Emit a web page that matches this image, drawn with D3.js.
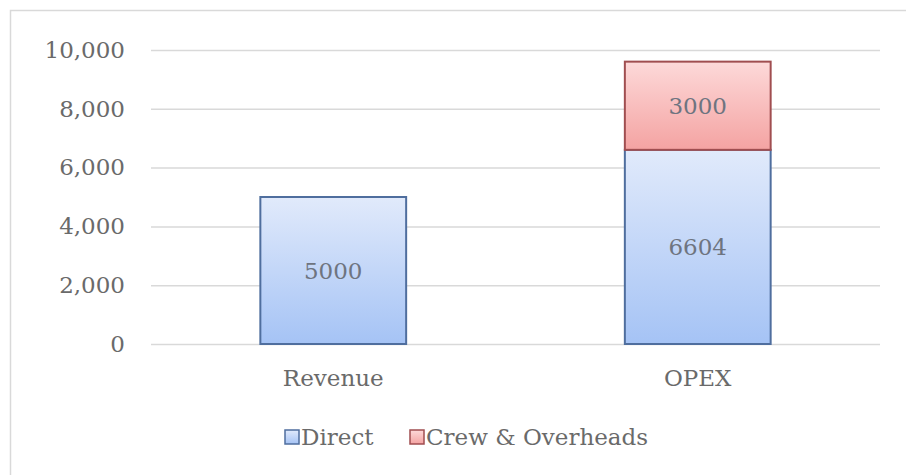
<!DOCTYPE html>
<html><head><meta charset="utf-8">
<script src="https://cdn.jsdelivr.net/npm/d3@7"></script>
<style>html,body{margin:0;padding:0;background:#fff;}svg{display:block;}</style>
</head><body>
<svg id="chart" width="906" height="475"></svg>
<script>
const categories = ["Revenue", "OPEX"];
const seriesNames = ["Direct", "Crew & Overheads"];
const directValues = [5000, 6604];
const crewValues = [0, 3000];
const yTicks = [0, 2000, 4000, 6000, 8000, 10000];

const W = 906, H = 475;
const svg = d3.select("#chart");
const FONT = "'DejaVu Serif', serif";
const FS = 23;
const textColor = "#6a6a6a";

// frame
svg.append("rect").attr("x", 10.5).attr("y", 10.5).attr("width", W + 20).attr("height", H + 20)
  .attr("fill", "#fff").attr("stroke", "#d9d9d9").attr("stroke-width", 1.5);

const plot = {left: 151, right: 880, top: 50, bottom: 344};
const x = d3.scaleBand().domain(categories).range([plot.left, plot.right]).padding(0);
const y = d3.scaleLinear().domain([0, 10000]).range([plot.bottom, plot.top]);
const barW = x.bandwidth() * 0.4;

const defs = svg.append("defs");
function grad(id, top, bottom) {
  const g = defs.append("linearGradient").attr("id", id).attr("x1", 0).attr("y1", 0).attr("x2", 0).attr("y2", 1);
  g.append("stop").attr("offset", "0%").attr("stop-color", top);
  g.append("stop").attr("offset", "100%").attr("stop-color", bottom);
}
grad("gBlue", "#e1eafb", "#a5c3f5");
grad("gRed", "#fdd9d9", "#f4a3a2");

// gridlines via axis
const yAxis = d3.axisLeft(y).tickValues(yTicks).tickSize(-(plot.right - plot.left)).tickPadding(26)
  .tickFormat(d3.format(","));
const ga = svg.append("g").attr("transform", `translate(${plot.left},0)`).call(yAxis);
ga.select(".domain").remove();
ga.selectAll(".tick line").attr("stroke", "#d9d9d9").attr("stroke-width", 1.5);
ga.selectAll(".tick text").attr("font-family", FONT).attr("font-size", FS).attr("fill", textColor);

// stacked data
const rows = categories.map((c, i) => ({cat: c, Direct: directValues[i], Crew: crewValues[i]}));
const stack = d3.stack().keys(["Direct", "Crew"])(rows);
const fills = {Direct: "url(#gBlue)", Crew: "url(#gRed)"};
const strokes = {Direct: "#4f6e9e", Crew: "#a04e50"};

stack.forEach(layer => {
  const key = layer.key;
  const g = svg.append("g");
  layer.forEach(d => {
    const v = d[1] - d[0];
    if (v <= 0) return;
    const x0 = x(d.data.cat) + (x.bandwidth() - barW) / 2;
    g.append("rect").attr("x", x0).attr("y", y(d[1])).attr("width", barW).attr("height", y(d[0]) - y(d[1]))
      .attr("fill", fills[key]).attr("stroke", strokes[key]).attr("stroke-width", 2);
    g.append("text").attr("x", x0 + barW / 2).attr("y", (y(d[0]) + y(d[1])) / 2)
      .attr("text-anchor", "middle").attr("dominant-baseline", "central")
      .attr("font-family", FONT).attr("font-size", FS).attr("fill", "#6e7480").text(v);
  });
});

// x axis labels
const xAxis = d3.axisBottom(x).tickSize(0).tickPadding(26);
const gx = svg.append("g").attr("transform", `translate(0,${plot.bottom})`).call(xAxis);
gx.select(".domain").remove();
gx.selectAll(".tick text").attr("font-family", FONT).attr("font-size", FS).attr("fill", textColor);

// legend
const legend = [{name: seriesNames[0], key: "Direct", x: 285}, {name: seriesNames[1], key: "Crew", x: 410}];
legend.forEach(l => {
  svg.append("rect").attr("x", l.x).attr("y", 430).attr("width", 14).attr("height", 14)
    .attr("fill", fills[l.key]).attr("stroke", strokes[l.key]).attr("stroke-width", 1.5);
  svg.append("text").attr("x", l.x + 16).attr("y", 437).attr("dominant-baseline", "central")
    .attr("font-family", FONT).attr("font-size", FS).attr("fill", textColor).text(l.name);
});
</script>
</body></html>
